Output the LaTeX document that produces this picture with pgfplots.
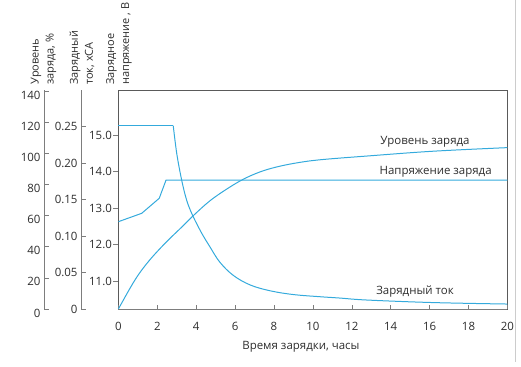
\documentclass[border=0pt]{standalone}
\usepackage{pgfplots}
\pgfplotsset{compat=1.18}
\usepackage{fontspec}
\setmainfont{Open Sans}
\definecolor{curve}{RGB}{52,170,220}
\definecolor{axgray}{RGB}{125,125,125}
\definecolor{boxgray}{RGB}{90,90,90}
\definecolor{txt}{RGB}{45,45,45}
\begin{document}
\begin{tikzpicture}
\path[use as bounding box] (0,0) rectangle (521bp,367bp);
\pgfplotsset{every axis/.append style={scale only axis, height=219bp,
  font=\fontsize{11.5}{13}\selectfont,
  /pgf/number format/assume math mode=true,
  major tick length=5bp,
  tick style={axgray, line width=0.6pt},
  ticklabel style={text=txt},
  axis line style={axgray, line width=0.8pt}}}

% main (voltage) axis with box
\begin{axis}[at={(118.4bp,58bp)}, anchor=south west, width=389bp,
  xmin=0, xmax=20, ymin=10.233, ymax=16.233,
  axis line style={boxgray, line width=0.8pt},
  xtick=\empty, ytick={11,12,13,14,15}, ytick pos=left,
  yticklabels={11.0,12.0,13.0,14.0,15.0},
  tick align=outside,
  yticklabel style={xshift=2bp}]
\addplot[curve, line width=1pt] coordinates {
(0,12.625) (1.2,12.855) (2.1,13.266) (2.45,13.767) (20,13.767)};
\node[font=\fontsize{11.5}{13}\selectfont, text=txt] at (axis cs:15.76,14.81) {Уровень заряда};
\node[font=\fontsize{11.5}{13}\selectfont, text=txt] at (axis cs:16.31,13.99) {Напряжение заряда};
\node[font=\fontsize{11.5}{13}\selectfont, text=txt] at (axis cs:15.25,10.707) {Зарядный ток};
\end{axis}

% x axis ticks (inside)
\begin{axis}[at={(118.4bp,58bp)}, anchor=south west, width=389bp,
  xmin=0, xmax=20, ymin=0, ymax=1,
  hide y axis, axis x line*=bottom, tick align=inside,
  major tick length=4bp,
  axis line style={axgray, line width=0.8pt},
  xtick={0,2,...,20},
  xticklabel style={yshift=-10bp},
  xlabel={Время зарядки, часы},
  xlabel style={text=txt, yshift=-4bp, xshift=-12bp}]
\end{axis}

% charge level axis
\begin{axis}[at={(44bp,58bp)}, anchor=south west, width=463.4bp,
  xmin=-3.825, xmax=20, ymin=0, ymax=140.6,
  hide x axis, axis y line*=left, tick align=inside,
  ytick={0,20,...,140},
  yticklabel style={yshift=-4bp}]
\addplot[curve, line width=1pt, smooth, tension=0.6] coordinates {
(0,0) (0.85,18.6) (1.54,30.4) (2.4,42.2) (3.25,52.5) (3.9,60.5) (4.71,69.5)
(5.57,77) (6.42,83.3) (7.28,88) (8.14,91.2) (9.17,93.8) (10.37,95.8)
(12.77,98.2) (16.19,101.3) (20,103.6)};
\end{axis}

% charge current axis
\begin{axis}[at={(81bp,58bp)}, anchor=south west, width=426.4bp,
  xmin=-1.923, xmax=20, ymin=0, ymax=0.3,
  hide x axis, axis y line*=left, tick align=inside,
  ytick={0,0.05,0.1,0.15,0.2,0.25},
  yticklabels={0,0.05,0.10,0.15,0.20,0.25}]
\addplot[curve, line width=1pt] coordinates {(0,0.251) (2.82,0.251)};
\addplot[curve, line width=1pt, smooth, tension=0.6] coordinates {
(2.82,0.251) (3.0,0.213) (3.25,0.177) (3.51,0.149) (3.82,0.128)
(4.28,0.104) (4.71,0.085) (5.22,0.064) (5.91,0.046) (6.77,0.033) (7.79,0.025)
(8.99,0.0198) (10.37,0.0168) (11.39,0.0150) (12.77,0.0123) (16.19,0.0088) (20,0.0068)};
\end{axis}

% axis titles
\node[rotate=90, anchor=west, align=left, inner sep=0pt, text=txt,
  font=\fontsize{11}{15}\selectfont] at (43.5bp,282bp) {Уровень\\заряда, \%};
\node[rotate=90, anchor=west, align=left, inner sep=0pt, text=txt,
  font=\fontsize{11}{15}\selectfont] at (82bp,282bp) {Зарядный\\ток, xCA};
\node[rotate=90, anchor=west, align=left, inner sep=0pt, text=txt,
  font=\fontsize{11}{15}\selectfont] at (119bp,282bp) {Зарядное\\напряжение , В};

\draw[black!20, line width=1.2pt] (515.7bp,367bp) -- (515.7bp,5bp);
\end{tikzpicture}
\end{document}
